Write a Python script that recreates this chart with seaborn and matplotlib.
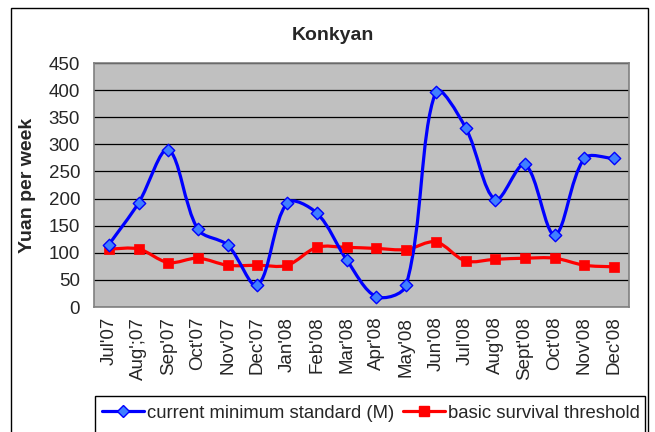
import numpy as np
import pandas as pd
import matplotlib
matplotlib.use("Agg")
import matplotlib.pyplot as plt
import seaborn as sns
from matplotlib.path import Path
from matplotlib.patches import PathPatch, Rectangle
from matplotlib.lines import Line2D

months = ["Jul'07", "Aug';07", "Sep'07", "Oct'07", "Nov'07", "Dec'07", "Jan'08",
          "Feb'08", "Mar'08", "Apr'08", "May'08", "Jun'08", "Jul'08", "Aug'08",
          "Sept'08", "Oct'08", "Nov'08", "Dec'08"]
current_min = [115, 192, 290, 143, 114, 40, 192, 173, 87, 19, 40, 397, 331, 198, 263, 133, 274, 274]
survival = [107, 107, 82, 90, 77, 77, 77, 110, 110, 108, 106, 120, 85, 88, 90, 90, 77, 74]
title = "Konkyan"
ylabel = "Yuan per week"
name_cur = "current minimum standard (M)"
name_surv = "basic survival threshold"

sns.set_style("white")
plt.rcParams['font.family'] = ['Liberation Sans', 'DejaVu Sans']

W, H = 655, 432
AX_L, AX_R, AX_T, AX_B = 94, 629, 63, 307
fig = plt.figure(figsize=(W / 100, H / 100), dpi=100)
ax = fig.add_axes([AX_L / W, 1 - AX_B / H, (AX_R - AX_L) / W, (AX_B - AX_T) / H])
ax.set_facecolor("#C0C0C0")

YMAX = 450
x = np.arange(len(months))
df = pd.DataFrame({"x": np.concatenate([x, x]),
                   "y": current_min + survival,
                   "s": [name_cur] * len(x) + [name_surv] * len(x)})

# pixel scale of the axes (used only for Excel-like smoothing geometry)
SX = (AX_R - AX_L) / len(months)
SY = (AX_B - AX_T) / YMAX


def smooth_path(xs, ys, t=1.0 / 3.0):
    P = np.column_stack([np.asarray(xs, float) * SX, np.asarray(ys, float) * SY])
    n = len(P)
    cin = [None] * n
    cout = [None] * n
    for i in range(n):
        pp = P[max(i - 1, 0)]
        pn = P[min(i + 1, n - 1)]
        d1 = np.hypot(*(P[i] - pp))
        d2 = np.hypot(*(pn - P[i]))
        tot = d1 + d2 if d1 + d2 > 0 else 1.0
        tan = pn - pp
        cin[i] = P[i] - t * tan * d1 / tot
        cout[i] = P[i] + t * tan * d2 / tot
    verts = [P[0]]
    codes = [Path.MOVETO]
    for i in range(n - 1):
        verts += [cout[i], cin[i + 1], P[i + 1]]
        codes += [Path.CURVE4] * 3
    V = np.array(verts)
    V[:, 0] /= SX
    V[:, 1] /= SY
    return Path(V, codes)


blue = "#0000FF"
red = "#FF0000"
ax.add_patch(PathPatch(smooth_path(x, survival), facecolor="none", edgecolor=red, lw=2.3, zorder=3))
ax.add_patch(PathPatch(smooth_path(x, current_min), facecolor="none", edgecolor=blue, lw=2.3, zorder=4))

sns.scatterplot(data=df[df.s == name_surv], x="x", y="y", marker="s", s=55,
                color=red, edgecolor=red, linewidth=0.5, ax=ax, zorder=5, legend=False)
sns.scatterplot(data=df[df.s == name_cur], x="x", y="y", marker="D", s=40,
                color="#3F7FFF", edgecolor=blue, linewidth=1.0, ax=ax, zorder=6, legend=False)

FS = 13.5
ax.set_xlim(-0.5, len(months) - 0.5)
ax.set_ylim(0, YMAX)
ax.set_yticks(np.arange(0, YMAX + 1, 50))
ax.yaxis.grid(True, color="black", lw=0.9)
ax.set_axisbelow(True)
ax.set_xticks(np.arange(-0.5, len(months), 1.0))
ax.set_xticklabels([])
ax.set_xticks(x, minor=True)
ax.set_xticklabels(months, minor=True, rotation=90, fontsize=FS)
ax.tick_params(axis="x", which="major", direction="out", length=5, width=1, color="#808080")
ax.tick_params(axis="x", which="minor", length=0, pad=7)
ax.tick_params(axis="y", direction="out", length=5, width=1, color="#808080", labelsize=FS, pad=5)
for sp in ax.spines.values():
    sp.set_color("#808080")
    sp.set_linewidth(1.2)
ax.set_xlabel("")
ax.set_ylabel(ylabel, fontsize=14, fontweight="bold", va="center")
ax.yaxis.set_label_coords((27 - AX_L) / (AX_R - AX_L), 0.5)
fig.text(333 / W, 1 - 35 / H, title, ha="center", va="center", fontsize=14, fontweight="bold")

# outer chart border and legend box
fig.patches.append(Rectangle((11 / W, -0.05), (648 - 11) / W, 1 - 8 / H + 0.05,
                             transform=fig.transFigure, fill=False, edgecolor="black", lw=1.0))
fig.patches.append(Rectangle((95 / W, -0.05), (645 - 95) / W, 1 - 396 / H + 0.05,
                             transform=fig.transFigure, fill=False, edgecolor="black", lw=1.0))

handles = [Line2D([], [], color=blue, lw=2.3, marker="D", markersize=6,
                  markerfacecolor="#3F7FFF", markeredgecolor=blue),
           Line2D([], [], color=red, lw=2.3, marker="s", markersize=7,
                  markerfacecolor=red, markeredgecolor=red)]
fig.legend(handles, [name_cur, name_surv], loc="center", ncol=2,
           bbox_to_anchor=(371 / W, 1 - 413 / H), frameon=False, fontsize=13.3,
           handlelength=2.27, handletextpad=0.16, columnspacing=0.45,
           borderpad=0, borderaxespad=0)

fig.savefig("out.png", dpi=100)
